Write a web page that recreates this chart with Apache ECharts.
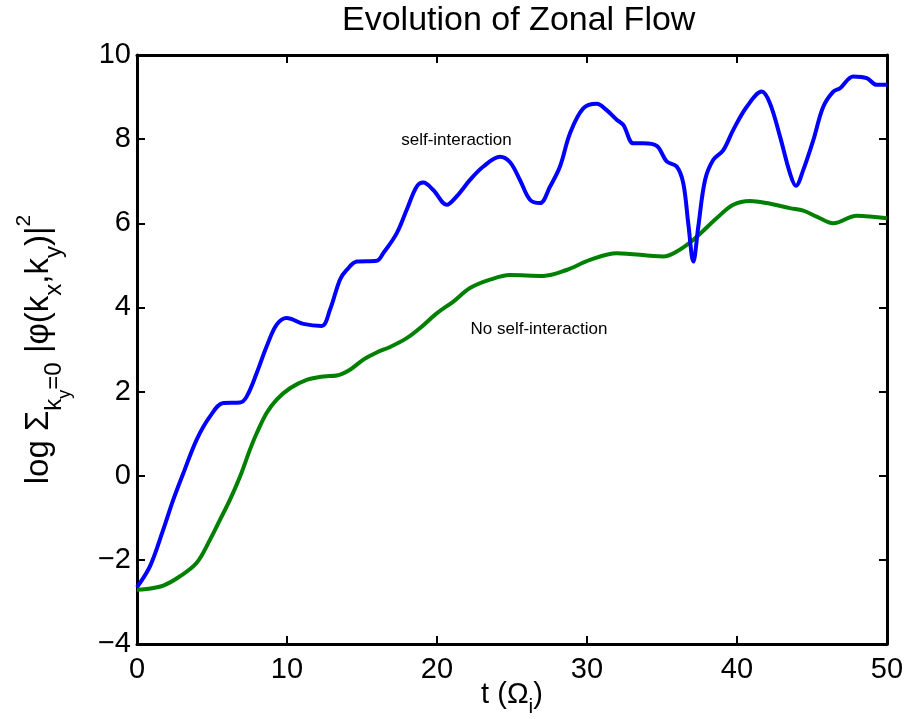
<!DOCTYPE html>
<html>
<head>
<meta charset="utf-8">
<script src="https://cdn.jsdelivr.net/npm/echarts@6/dist/echarts.min.js"></script>
<style>
html,body{margin:0;padding:0;background:#fff;overflow:hidden;width:908px;height:719px;}
#main{width:908px;height:719px;display:block;}
</style>
</head>
<body>
<div id="main"></div>
<script>
// ---- data ----
const titleText = 'Evolution of Zonal Flow';
const xTicks = [0, 10, 20, 30, 40, 50];
const yTicks = [-4, -2, 0, 2, 4, 6, 8, 10];

const tSelf = [0, 0.87, 1.75, 2.42, 3.09, 3.98, 4.87, 5.75, 6.87, 7.31, 7.98, 8.64, 9.31, 9.98, 11.09, 12.31, 12.87, 13.53, 13.98, 14.65, 15.98, 16.42, 17.31, 17.98, 18.64, 19.09, 19.75, 20.65, 21.31, 22.2, 23.09, 24.2, 24.87, 25.53, 26.2, 26.87, 27.53, 28.2, 28.87, 29.75, 30.65, 31.31, 31.98, 32.42, 33.09, 33.75, 34.65, 35.31, 35.98, 36.42, 36.75, 37.09, 37.42, 37.87, 38.42, 39.09, 39.75, 40.65, 41.65, 42.2, 42.87, 43.53, 43.93, 44.42, 45.09, 45.75, 46.42, 46.87, 47.75, 48.65, 49.31, 50];
const ySelf = [-2.65, -2.15, -1.28, -0.57, 0.06, 0.86, 1.41, 1.73, 1.74, 1.88, 2.44, 3.07, 3.59, 3.75, 3.61, 3.56, 3.95, 4.66, 4.89, 5.09, 5.11, 5.29, 5.76, 6.32, 6.87, 6.97, 6.79, 6.44, 6.64, 7.03, 7.35, 7.58, 7.45, 7.03, 6.56, 6.48, 6.87, 7.35, 8.14, 8.73, 8.84, 8.69, 8.46, 8.34, 7.90, 7.90, 7.84, 7.47, 7.35, 6.95, 6.0, 5.09, 5.92, 7.03, 7.51, 7.74, 8.22, 8.77, 9.13, 8.85, 8.06, 7.19, 6.89, 7.27, 7.98, 8.77, 9.13, 9.21, 9.49, 9.45, 9.29, 9.29];

const tNoSelf = [0, 0.5, 1.75, 2.87, 3.98, 4.87, 5.53, 6.2, 6.87, 7.53, 7.98, 8.64, 9.31, 10.2, 11.31, 12.42, 13.31, 14.2, 15.09, 15.98, 16.87, 17.98, 18.87, 19.98, 21.09, 22.2, 23.53, 24.87, 27.09, 28.64, 30.2, 31.98, 35.09, 35.98, 37.09, 38.64, 39.75, 40.87, 41.98, 43.53, 44.42, 45.31, 46.42, 47.98, 50];
const yNoSelf = [-2.71, -2.7, -2.61, -2.39, -2.07, -1.52, -1.05, -0.57, -0.02, 0.62, 1.01, 1.49, 1.81, 2.08, 2.28, 2.36, 2.38, 2.52, 2.76, 2.93, 3.06, 3.27, 3.51, 3.86, 4.14, 4.46, 4.66, 4.77, 4.75, 4.89, 5.13, 5.29, 5.21, 5.33, 5.61, 6.12, 6.44, 6.53, 6.48, 6.36, 6.30, 6.16, 6.0, 6.18, 6.12];

const seriesNames = ['self-interaction', 'No self-interaction'];
const annotationAt = [[21.3, 7.98], [26.8, 3.47]];

// ---- build ----
const FONT = '"Liberation Sans", Arial, Helvetica, sans-serif';
const pairs = (t, y) => t.map((v, i) => [v, y[i]]);
const minus = v => String(v).replace('-', '\u2212');

const GRID = {left: 137, width: 750, top: 55, height: 589};
const TITLE_SIZE = 34;
// centre the title over the plot area
const mctx = document.createElement('canvas').getContext('2d');
mctx.font = TITLE_SIZE + 'px ' + FONT;
const titleW = mctx.measureText(titleText).width;
const titleLeft = Math.round(GRID.left + GRID.width / 2 + 2 - titleW / 2);

const chart = echarts.init(document.getElementById('main'), null, {renderer: 'canvas', width: 908, height: 719});

const axisCommon = {
  type: 'value',
  nameMoveOverlap: false,
  axisLine: {show: true, onZero: false, lineStyle: {color: '#000', width: 3}},
  axisTick: {show: true, inside: true, length: 8, lineStyle: {color: '#000', width: 2}},
  splitLine: {show: false},
};

const yNameRich = {
  m: {fontSize: 33, lineHeight: 33, fontFamily: FONT, color: '#000', verticalAlign: 'top', padding: [16, 0, 0, 0]},
  s: {fontSize: 24, lineHeight: 24, fontFamily: FONT, color: '#000', verticalAlign: 'top', padding: [36, 0, 0, 0]},
  ss: {fontSize: 18, lineHeight: 18, fontFamily: FONT, color: '#000', verticalAlign: 'top', padding: [50, 0, 0, 0]},
  p: {fontSize: 21, lineHeight: 21, fontFamily: FONT, color: '#000', verticalAlign: 'top', padding: [8, 0, 0, 0]}
};
const yName = '{m|log \u03A3}{s|k}{ss|y}{s|=0}{m| |\u03C6(k}{s|x}{m|,k}{s|y}{m|)|}{p|2}';

const xNameRich = {
  m: {fontSize: 29, lineHeight: 29, fontFamily: FONT, color: '#000', verticalAlign: 'top', padding: [0, 0, 0, 0]},
  s: {fontSize: 21, lineHeight: 21, fontFamily: FONT, color: '#000', verticalAlign: 'top', padding: [17, 0, 0, 0]}
};
const xName = '{m|t (\u03A9}{s|i}{m|)}';

chart.setOption({
  animation: false,
  backgroundColor: '#fff',
  title: {
    text: titleText, left: titleLeft, top: -1,
    textStyle: {fontFamily: FONT, fontSize: TITLE_SIZE, fontWeight: 'normal', color: '#000'}
  },
  grid: Object.assign({containLabel: false, outerBoundsMode: 'none'}, GRID),
  xAxis: [
    Object.assign({}, axisCommon, {
      position: 'bottom', min: xTicks[0], max: xTicks[xTicks.length - 1], interval: 10,
      axisLabel: {show: true, color: '#000', fontSize: 29, fontFamily: FONT, margin: 11, formatter: minus},
      name: xName, nameLocation: 'middle', nameGap: 36,
      nameTextStyle: {rich: xNameRich}
    }),
    Object.assign({}, axisCommon, {
      position: 'top', min: xTicks[0], max: xTicks[xTicks.length - 1], interval: 10,
      axisLabel: {show: false}
    })
  ],
  yAxis: [
    Object.assign({}, axisCommon, {
      position: 'left', min: yTicks[0], max: yTicks[yTicks.length - 1], interval: 2,
      axisLabel: {show: true, color: '#000', fontSize: 29, fontFamily: FONT, margin: 6, formatter: minus},
      name: yName, nameLocation: 'middle', nameGap: 98, nameRotate: 90,
      nameTextStyle: {rich: yNameRich}
    }),
    Object.assign({}, axisCommon, {
      position: 'right', min: yTicks[0], max: yTicks[yTicks.length - 1], interval: 2,
      axisLabel: {show: false}
    })
  ],
  series: [
    {
      name: seriesNames[0], type: 'line', xAxisIndex: 0, yAxisIndex: 0,
      data: pairs(tSelf, ySelf), showSymbol: false, smooth: 0.35,
      lineStyle: {color: '#0000ff', width: 4}, itemStyle: {color: '#0000ff'}, z: 3,
      markPoint: {
        symbol: 'circle', symbolSize: 1, itemStyle: {color: 'rgba(0,0,0,0)'},
        label: {show: true, position: 'inside', formatter: seriesNames[0], color: '#000', fontSize: 17, fontFamily: FONT},
        data: [{coord: annotationAt[0]}]
      }
    },
    {
      name: seriesNames[1], type: 'line', xAxisIndex: 0, yAxisIndex: 0,
      data: pairs(tNoSelf, yNoSelf), showSymbol: false, smooth: 0.35,
      lineStyle: {color: '#008000', width: 4}, itemStyle: {color: '#008000'}, z: 2,
      markPoint: {
        symbol: 'circle', symbolSize: 1, itemStyle: {color: 'rgba(0,0,0,0)'},
        label: {show: true, position: 'inside', formatter: seriesNames[1], color: '#000', fontSize: 17, fontFamily: FONT},
        data: [{coord: annotationAt[1]}]
      }
    }
  ]
});
</script>
</body>
</html>
